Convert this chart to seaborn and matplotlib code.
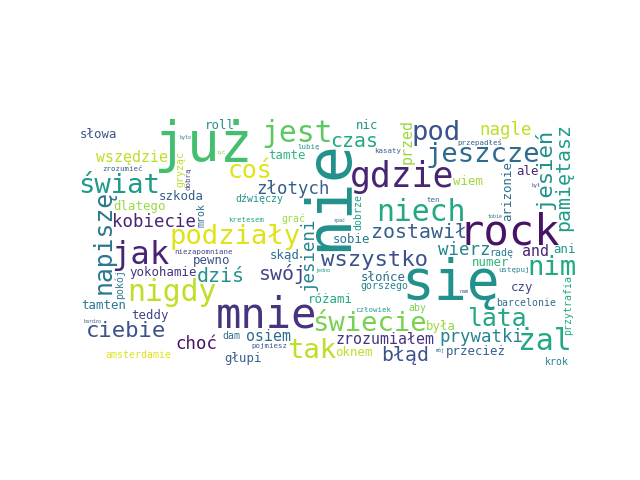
import numpy as np
import matplotlib
matplotlib.use("Agg")
import matplotlib.pyplot as plt
import seaborn as sns

# word frequencies (largest first)
words = ["nie", "się", "już", "rock", "mnie", "gdzie", "jak", "żal", "jest", "niech",
         "nigdy", "jeszcze", "podziały", "świecie", "świat", "nim", "tak", "pod", "napiszę", "lata",
         "coś", "wszystko", "ciebie", "jesień", "swój", "błąd", "pamiętasz", "zostawił", "dziś", "czas",
         "kobiecie", "prywatki", "złotych", "wierz", "choć", "nagle", "jesieni", "zrozumiałem", "wszędzie", "and",
         "osiem", "przed", "yokohamie", "przecież", "roll", "sobie", "tamten", "ale", "skąd", "była",
         "szkoda", "numer", "głupi", "nic", "dlatego", "czy", "tamte", "słońce", "teddy", "wiem",
         "pewno", "oknem", "słowa", "ani", "różami", "arizonie", "mrok", "barcelonie", "dźwięczy", "gorszego",
         "amsterdamie", "przytrafia", "grać", "aby", "gryząc", "radę", "dam", "dobrze", "pokój", "krok",
         "lubię", "ten", "niezapomniane", "przepadłeś", "kretesem", "człowiek", "zrozumieć", "ustępuj", "pojmiesz", "kasaty",
         "dobrą", "nam", "żyć", "spać", "bardzo", "był", "jedno", "mój", "było", "tobie"]
counts = [25, 22, 22, 17, 17, 14, 13, 12, 12, 12,
          12, 11, 11, 11, 11, 11, 11, 11, 10, 10,
          10, 9, 9, 9, 8, 8, 8, 8, 8, 8,
          7, 7, 7, 7, 7, 7, 7, 6, 6, 6,
          6, 6, 5, 5, 5, 5, 5, 5, 5, 5,
          5, 5, 5, 5, 5, 5, 5, 5, 5, 5,
          5, 5, 5, 5, 5, 5, 4, 4, 4, 4,
          4, 4, 4, 4, 4, 4, 4, 4, 4, 4,
          3, 3, 3, 3, 3, 3, 3, 3, 3, 3,
          3, 2, 2, 2, 2, 2, 2, 2, 2, 2]

# styling: which words run upwards and where each sits on viridis
vertical_words = {"nie", "napiszę", "jesień", "pamiętasz", "jesieni", "przed", "dobrze",
                  "arizonie", "mrok", "pokój", "przytrafia", "dobrą", "gryząc"}
word_colors = [0.5, 0.5, 0.7, 0.05, 0.15, 0.1, 0.1, 0.6, 0.75, 0.6,
               0.9, 0.35, 0.95, 0.8, 0.55, 0.6, 0.9, 0.25, 0.4, 0.6,
               0.95, 0.25, 0.25, 0.5, 0.2, 0.25, 0.55, 0.3, 0.5, 0.6,
               0.1, 0.45, 0.3, 0.45, 0.05, 0.9, 0.45, 0.15, 0.9, 0.1,
               0.35, 0.85, 0.15, 0.3, 0.5, 0.4, 0.4, 0.1, 0.35, 0.85,
               0.3, 0.65, 0.3, 0.5, 0.85, 0.2, 0.65, 0.35, 0.2, 0.85,
               0.25, 0.9, 0.25, 0.55, 0.6, 0.35, 0.35, 0.35, 0.5, 0.45,
               0.95, 0.6, 0.85, 0.8, 0.9, 0.4, 0.35, 0.55, 0.4, 0.45,
               0.5, 0.35, 0.2, 0.3, 0.6, 0.55, 0.3, 0.45, 0.25, 0.3,
               0.2, 0.3, 0.8, 0.3, 0.3, 0.2, 0.55, 0.35, 0.4, 0.4]

sns.set_theme(style="white")
plt.rcParams["font.family"] = ["DejaVu Sans Mono", "DejaVu Sans"]
FONT = "DejaVu Sans Mono"

W, H = 400, 200  # cloud canvas units
cmap = sns.color_palette("viridis", as_cmap=True)

fig = plt.figure(figsize=(6.4, 4.8), dpi=100)
ax = fig.add_subplot(111)
ax.set_xlim(0, W)
ax.set_ylim(H, 0)
ax.set_aspect("equal")
ax.apply_aspect()
pos = ax.get_position()
scale = pos.width * fig.get_figwidth() * fig.dpi / W
Wd, Hd = int(round(W * scale)), int(round(H * scale))

# scratch canvas: render a word alone to get its ink mask in pixels
scratch = plt.figure(figsize=(6.4, 4.8), dpi=100)
scratch.patch.set_alpha(0)
AX, AY = 320, 240
cache = {}


def ink_mask(word, pt, rot):
    key = (word, pt, rot)
    if key in cache:
        return cache[key]
    t = scratch.text(AX / 640, 1 - AY / 480, word, fontsize=pt, family=FONT,
                     ha="left", va="baseline", rotation=rot, rotation_mode="anchor")
    scratch.canvas.draw()
    alpha = np.asarray(scratch.canvas.buffer_rgba())[:, :, 3].copy()
    t.remove()
    rows, cols = np.nonzero(alpha > 0)
    r0, r1, c0, c1 = rows.min(), rows.max() + 1, cols.min(), cols.max() + 1
    m = np.pad(alpha[r0:r1, c0:c1] > 0, 1)
    d = m.copy()
    d[1:, :] |= m[:-1, :]
    d[:-1, :] |= m[1:, :]
    d[:, 1:] |= m[:, :-1]
    d[:, :-1] |= m[:, 1:]
    cache[key] = (d, c0 - 1 - AX, r0 - 1 - AY)
    return cache[key]


def free_spots(occ, m):
    h, w = m.shape
    if h > Hd or w > Wd:
        return None
    sh = (Hd + h - 1, Wd + w - 1)
    a = np.fft.rfft2(occ.astype(float), sh)
    b = np.fft.rfft2(m[::-1, ::-1].astype(float), sh)
    c = np.fft.irfft2(a * b, sh)[h - 1:Hd, w - 1:Wd]
    return c < 0.5


def halton(k, b):
    f, r = 1.0, 0.0
    while k > 0:
        f /= b
        r += f * (k % b)
        k //= b
    return r


occ = np.zeros((Hd, Wd), bool)
for n, (word, c, col) in enumerate(zip(words, counts, word_colors)):
    size = 2 * c
    vert = word in vertical_words
    tx, ty = (1 - halton(n + 1, 2)) * Wd, halton(n + 1, 3) * Hd
    placed = None
    while size >= 4 and placed is None:
        pt = size * scale * 72 / fig.dpi
        for v in (vert, not vert):
            m, ox, oy = ink_mask(word, pt, 90 if v else 0)
            ok = free_spots(occ, m)
            if ok is None or not ok.any():
                continue
            h, w = m.shape
            ii, jj = np.nonzero(ok)
            cost = (jj + w / 2 - tx) ** 2 + (ii + h / 2 - ty) ** 2
            k = np.argmin(cost)
            placed = (ii[k], jj[k], m, ox, oy, v, pt)
            break
        if placed is None:
            size -= 1
    if placed is None:
        continue
    i, j, m, ox, oy, v, pt = placed
    h, w = m.shape
    occ[i:i + h, j:j + w] |= m
    ax.text((j - ox) / scale, (i - oy) / scale, word, fontsize=pt, family=FONT,
            color=cmap(col), ha="left", va="baseline",
            rotation=90 if v else 0, rotation_mode="anchor")

plt.close(scratch)
ax.axis("off")
fig.savefig("out.png", dpi=100)
